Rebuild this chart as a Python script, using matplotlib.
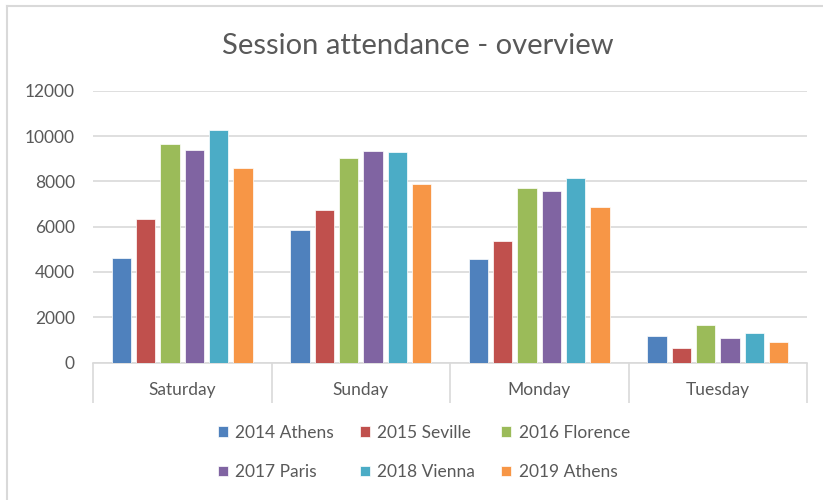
import numpy as np
import matplotlib
matplotlib.use("Agg")
import matplotlib.pyplot as plt
from matplotlib.lines import Line2D

days = ["Saturday", "Sunday", "Monday", "Tuesday"]
series = ["2014 Athens", "2015 Seville", "2016 Florence",
          "2017 Paris", "2018 Vienna", "2019 Athens"]
athens_2014 = [4620, 5850, 4580, 1160]
seville_2015 = [6350, 6730, 5370, 620]
florence_2016 = [9650, 9060, 7700, 1640]
paris_2017 = [9400, 9360, 7560, 1100]
vienna_2018 = [10290, 9310, 8150, 1290]
athens_2019 = [8580, 7900, 6880, 900]
values = [athens_2014, seville_2015, florence_2016, paris_2017, vienna_2018, athens_2019]
colors = ["#4F81BD", "#C0504D", "#9BBB59", "#8064A2", "#4BACC6", "#F79646"]

plt.rcParams['font.family'] = ['Lato', 'DejaVu Sans']
grey = "#d9d9d9"
txt = "#595959"

fig = plt.figure(figsize=(8.23, 5.0), dpi=100)
ax = fig.add_axes([93 / 823, 1 - 362.5 / 500, 714 / 823, (362.5 - 91) / 500])

x = np.arange(len(days))
pitch = 0.136
w = 0.108
for i, (name, vals) in enumerate(zip(series, values)):
    ax.bar(x + (i - 2.5) * pitch, vals, width=w, color=colors[i], label=name,
           edgecolor="white", linewidth=0.5, zorder=3)

ax.set_xlim(-0.5, len(days) - 0.5)
ax.set_ylim(0, 12000)
ax.set_yticks(range(0, 12001, 2000))
ax.yaxis.grid(True, color=grey, linewidth=1.2, zorder=0)
for s in ["top", "right", "left"]:
    ax.spines[s].set_visible(False)
ax.spines["bottom"].set_color(grey)
ax.spines["bottom"].set_linewidth(1.2)
ax.tick_params(axis="y", length=0, pad=13, labelsize=12.5, labelcolor=txt)

# category boxes: boundary ticks and centered labels
ax.set_xticks(np.arange(-0.5, len(days), 1.0))
ax.set_xticklabels([])
ax.tick_params(axis="x", which="major", length=29, width=1.2, color=grey, direction="out")
ax.set_xticks(x, minor=True)
ax.set_xticklabels(days, minor=True)
ax.tick_params(axis="x", which="minor", length=0, pad=14, labelsize=12.5, labelcolor=txt)

fig.text(418 / 823, 1 - 46 / 500, "Session attendance - overview",
         ha="center", va="center", fontsize=21, color=txt)

# legend fills column by column, so reorder to read row by row
handles, labels = ax.get_legend_handles_labels()
order = [0, 3, 1, 4, 2, 5]
leg = fig.legend([handles[k] for k in order], [labels[k] for k in order],
                 ncol=3, loc="center",
                 bbox_to_anchor=(424 / 823, 1 - 452.5 / 500), frameon=False,
                 fontsize=12.5, handlelength=0.55, handleheight=0.55,
                 handletextpad=0.45, columnspacing=1.5, labelspacing=1.35)
for t in leg.get_texts():
    t.set_color(txt)

# outer chart border (left and top visible)
fig.add_artist(Line2D([7 / 823, 7 / 823], [0, 1 - 6 / 500], transform=fig.transFigure,
                      color=grey, linewidth=1.5))
fig.add_artist(Line2D([7 / 823, 1], [1 - 6 / 500, 1 - 6 / 500], transform=fig.transFigure,
                      color=grey, linewidth=1.5))

fig.savefig("out.png", dpi=100, facecolor="white")
